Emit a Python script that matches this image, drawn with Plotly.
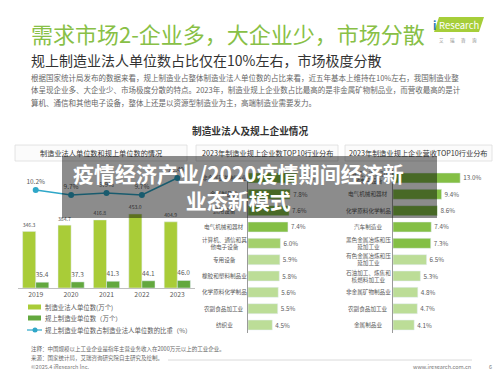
import plotly.graph_objects as go

# ---------------- data ----------------
years = ["2019", "2020", "2021", "2022", "2023"]
legal_units = [346.3, 384.7, 416.8, 453.0, 404.9]      # 制造业法人单位数(万个)
above_units = [35.4, 37.3, 41.3, 44.1, 46.0]           # 规上制造业单位数(万个)
ratio = [10.2, 9.7, 9.9, 9.7, 11.4]                    # 比重(%)

count_inds = ["非金属矿物制品业", "金属制品业", "通用设备", "电气机械和器材",
              "计算机、通信和其<br>他电子设备", "专用设备", "橡胶和塑料制品业",
              "化学原料化学制品", "农副食品加工业", "纺织业"]
count_share = [9.1, 7.8, 7.6, 7.4, 6.0, 5.9, 5.8, 5.6, 5.5, 4.5]

rev_inds = ["计算机、通信和其<br>他电子设备", "电气机械和器材", "化学原料化学制品",
            "汽车制造业", "黑色金属冶炼和压<br>延加工业", "有色金属冶炼和压<br>延加工业",
            "石油加工、炼焦和<br>核燃料加工业", "非金属矿物制品业", "农副食品加工业", "金属制品业"]
rev_share = [13.0, 9.4, 8.6, 7.4, 7.3, 6.5, 5.3, 4.8, 4.7, 4.1]

legend_names = ["制造业法人单位数(万个)", "规上制造业单位数（万个）",
                "规上制造业单位数占制造业法人单位数的比重（%）"]

# ---------------- helpers ----------------
W, H = 500, 375
def X(p): return p / W
def Y(p): return 1 - p / H

FONT = "Noto Sans CJK SC, Noto Sans, sans-serif"
LIGHT = "#A9CC38"
DARK = "#63A83E"
BLUE = "#2FA7C8"
GREEN_T = "#88C046"
TXT = "#5a5a5a"

mid_colors = ["#84BF45"] * 4 + ["#A4D06C"] + ["#BCDD97"] * 5
rev_colors = ["#84BF45"] * 5 + ["#BCDD97"] * 5

fig = go.Figure()

# left chart bars
fig.add_trace(go.Bar(x=years, y=legal_units, width=0.37, offset=-0.37,
                     marker_color=LIGHT, text=[f"{v:.1f}" for v in legal_units],
                     textposition="outside", textfont=dict(size=6.5, color=TXT),
                     cliponaxis=False, xaxis="x", yaxis="y", showlegend=False))
fig.add_trace(go.Bar(x=years, y=above_units, width=0.37, offset=0.0,
                     marker_color=DARK, text=[f"{v:.1f}" for v in above_units],
                     textposition="outside", textfont=dict(size=6.5, color=TXT),
                     cliponaxis=False, xaxis="x", yaxis="y", showlegend=False))
fig.add_trace(go.Scatter(x=years, y=ratio, mode="lines+markers+text",
                         text=[f"{v:.1f}%" for v in ratio], textposition="top center",
                         textfont=dict(size=6.5, color=TXT),
                         line=dict(color=BLUE, width=1.5),
                         marker=dict(size=6, color=BLUE),
                         cliponaxis=False, xaxis="x", yaxis="y2", showlegend=False))

# middle chart
fig.add_trace(go.Bar(y=count_inds, x=count_share, orientation="h", width=0.61,
                     marker_color=mid_colors, text=[f"{v:.1f}%" for v in count_share],
                     textposition="outside", textfont=dict(size=6.3, color=TXT),
                     cliponaxis=False, xaxis="x3", yaxis="y3", showlegend=False))
# right chart
fig.add_trace(go.Bar(y=rev_inds, x=rev_share, orientation="h", width=0.61,
                     marker_color=rev_colors, text=[f"{v:.1f}%" for v in rev_share],
                     textposition="outside", textfont=dict(size=6.3, color=TXT),
                     cliponaxis=False, xaxis="x4", yaxis="y4", showlegend=False))

shapes = []
annotations = []

def txt(x, y, s, size, color=TXT, xanchor="left", bold=False, yref="paper", xref="paper", align="left"):
    annotations.append(dict(x=x, y=y, xref=xref, yref=yref, text=(f"<b>{s}</b>" if bold else s),
                            showarrow=False, xanchor=xanchor, yanchor="middle", align=align,
                            font=dict(size=size, color=color, family=FONT)))

# header
txt(X(29), Y(33), "需求市场2-企业多，大企业少，市场分散", 22, GREEN_T)
txt(X(29), Y(60), "规上制造业法人单位数占比仅在10%左右，市场极度分散", 14, "#333333")
para = ["根据国家统计局发布的数据来看，规上制造业占整体制造业法人单位数的占比来看，近五年基本上维持在10%左右，我国制造业整",
        "体呈现企业多、大企业少、市场极度分散的特点。2023年，制造业规上企业数占比最高的是非金属矿物制品业，而营收最高的是计",
        "算机、通信和其他电子设备，整体上还是以资源型制造业为主，高端制造业需要发力。"]
for i, line in enumerate(para):
    txt(X(29), Y(77 + 12.5 * i), line, 7.5, "#666666")

# logo
shapes.append(dict(type="path", xref="paper", yref="paper",
                   path=f"M {X(434)},{Y(32)} L {X(439)},{Y(17)} L {X(484)},{Y(17)} L {X(479)},{Y(32)} Z",
                   fillcolor="#A6CE39", line=dict(width=0)))
txt(X(431), Y(25), "i", 11, "#2A7AB8", bold=True)
txt(X(458.5), Y(25), "Research", 9.5, "#ffffff", xanchor="center")
txt(X(458), Y(40), "艾 　 瑞 　 咨 　 询", 4.5, "#888888", xanchor="center")

# chart title
txt(X(250), Y(131), "制造业法人及规上企业情况", 9.7, "#333333", xanchor="center", bold=True)

# panel title boxes
for (x0, x1, label) in [(15, 187, "制造业法人单位数和规上单位数的情况"),
                        (196, 338, "2023年制造业规上企业数TOP10行业分布"),
                        (345, 492, "2023年制造业规上企业营收TOP10行业分布")]:
    shapes.append(dict(type="rect", xref="paper", yref="paper", x0=X(x0), x1=X(x1),
                       y0=Y(161), y1=Y(145), fillcolor="#fbfbfb",
                       line=dict(color="#dddddd", width=0.8), layer="below"))
    txt(X((x0 + x1) / 2), Y(153), label, 7.2, "#333333", xanchor="center")

# left legend
shapes.append(dict(type="rect", xref="paper", yref="paper", x0=X(28), x1=X(41),
                   y0=Y(309.5), y1=Y(304.5), fillcolor=LIGHT, line=dict(width=0)))
shapes.append(dict(type="rect", xref="paper", yref="paper", x0=X(28), x1=X(41),
                   y0=Y(320.5), y1=Y(315.5), fillcolor=DARK, line=dict(width=0)))
shapes.append(dict(type="line", xref="paper", yref="paper", x0=X(27), x1=X(42),
                   y0=Y(330), y1=Y(330), line=dict(color=BLUE, width=1.2)))
shapes.append(dict(type="circle", xref="paper", yref="paper", x0=X(32.5), x1=X(37.5),
                   y0=Y(332.5), y1=Y(327.5), fillcolor=BLUE, line=dict(width=0)))
for i, name in enumerate(legend_names):
    txt(X(43), Y(307 + 11.5 * i), name, 6.4, TXT)

# category labels (middle / right)
for c in count_inds:
    txt(X(224), c, c, 5.6, TXT, xanchor="center", yref="y3", align="center")
for c in rev_inds:
    txt(X(368), c, c, 5.6, TXT, xanchor="center", yref="y4", align="center")

# footnotes
txt(X(29), Y(349), "注释：中国规模以上工业企业是指年主营业务收入在2000万元以上的工业企业。", 5.5, "#666666")
txt(X(29), Y(357.5), "来源：国家统计局，艾瑞咨询研究院自主研究及绘制。", 5.5, "#666666")
txt(X(29), Y(366.5), "©2025.4 iResearch Inc.", 5.5, "#777777")
txt(X(473), Y(366.5), "www.iresearch.com.cn", 5.5, "#777777", xanchor="right")
txt(X(490), Y(366.5), "6", 5.5, "#777777", xanchor="center")
shapes.append(dict(type="line", xref="paper", yref="paper", x0=X(168), x1=X(472),
                   y0=Y(360), y1=Y(360), line=dict(color="#d0d0d0", width=0.8)))

# overlay banner (annotations so it sits on top of everything)
annotations.append(dict(x=X(249.5), y=Y(187), xref="paper", yref="paper", text=" ",
                        showarrow=False, xanchor="center", yanchor="middle",
                        width=375, height=62, bgcolor="rgba(0,0,0,0.45)",
                        borderpad=0, borderwidth=0, font=dict(size=10)))
annotations.append(dict(x=X(238), y=Y(186.5), xref="paper", yref="paper",
                        text="<b>疫情经济产业/2020疫情期间经济新<br>业态新模式</b>",
                        showarrow=False, xanchor="center", yanchor="middle", align="center",
                        font=dict(size=21, color="#ffffff", family=FONT)))

fig.update_layout(
    width=W, height=H, margin=dict(l=0, r=0, t=0, b=0),
    paper_bgcolor="white", plot_bgcolor="rgba(0,0,0,0)",
    font=dict(family=FONT, color=TXT),
    bargap=0.39, hovermode=False,
    xaxis=dict(domain=[X(18), X(195)], anchor="y", type="category",
               showline=True, linecolor="#bfbfbf", linewidth=1, ticks="",
               showgrid=False, zeroline=False, tickfont=dict(size=6.8, color=TXT)),
    yaxis=dict(domain=[Y(288), Y(200)], range=[0, 538.6], visible=False),
    yaxis2=dict(domain=[Y(288), Y(160)], anchor="x", range=[0.4, 13.2], visible=False),
    xaxis3=dict(domain=[X(248), X(300)], anchor="y3", range=[0, 9.63], visible=False),
    yaxis3=dict(domain=[Y(333.2), Y(169.8)], anchor="x3", type="category",
                range=[9.5, -0.5], showticklabels=False, ticks="", showgrid=False,
                showline=True, linecolor="#9a9a9a", linewidth=1, zeroline=False),
    xaxis4=dict(domain=[X(393), X(470)], anchor="y4", range=[0, 14.9], visible=False),
    yaxis4=dict(domain=[Y(333.2), Y(169.8)], anchor="x4", type="category",
                range=[9.5, -0.5], showticklabels=False, ticks="", showgrid=False,
                showline=True, linecolor="#9a9a9a", linewidth=1, zeroline=False),
    shapes=shapes, annotations=annotations,
)

fig.write_html("out.html", config={"displayModeBar": False},
               post_script="document.body.style.margin='0';document.body.style.padding='0';")
